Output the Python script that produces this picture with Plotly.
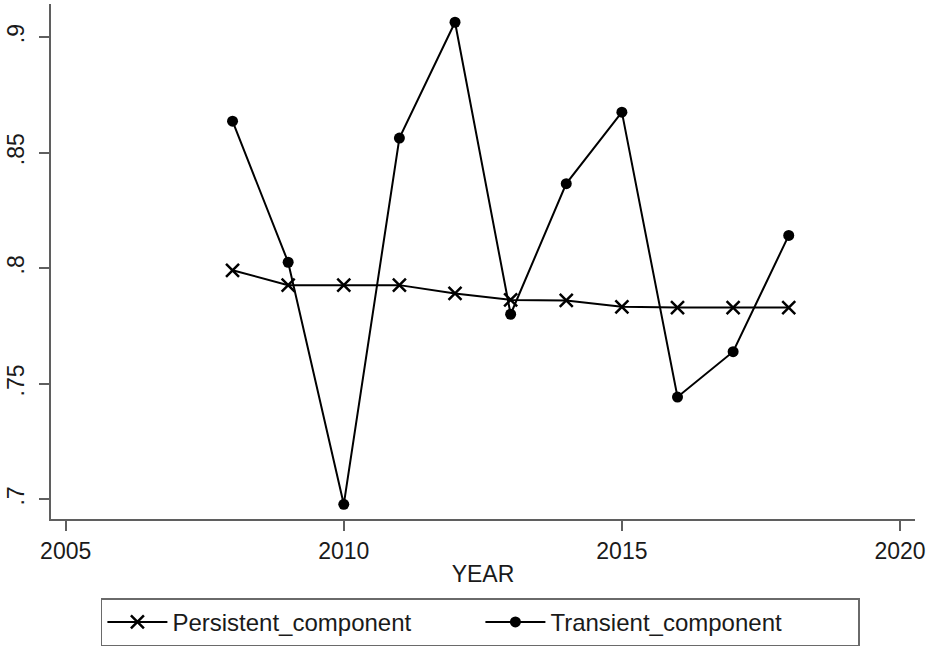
import plotly.graph_objects as go

# Yearly estimates of the two components
years = [2008, 2009, 2010, 2011, 2012, 2013, 2014, 2015, 2016, 2017, 2018]
persistent = [0.7991, 0.7927, 0.7927, 0.7927, 0.7891, 0.7863, 0.7861, 0.7833, 0.7830, 0.7830, 0.7830]
transient = [0.8636, 0.8026, 0.6979, 0.8563, 0.9064, 0.7801, 0.8366, 0.8675, 0.7443, 0.7639, 0.8142]

x_ticks = [2005, 2010, 2015, 2020]
y_ticks = [0.7, 0.75, 0.8, 0.85, 0.9]
y_tick_text = [".7", ".75", ".8", ".85", ".9"]

FONT = "Liberation Sans, Arial, sans-serif"
AXIS_GREY = "#5f5f5f"

fig = go.Figure()
fig.add_trace(go.Scatter(
    x=years, y=persistent, name="Persistent_component",
    mode="lines+markers",
    line=dict(color="black", width=2),
    marker=dict(symbol="x-thin", size=13, color="black",
                line=dict(color="black", width=2.5)),
))
fig.add_trace(go.Scatter(
    x=years, y=transient, name="Transient_component",
    mode="lines+markers",
    line=dict(color="black", width=2),
    marker=dict(symbol="circle", size=11, color="black"),
))

fig.update_layout(
    width=930, height=650,
    margin=dict(l=51, r=15, t=4, b=127),
    paper_bgcolor="white", plot_bgcolor="white",
    font=dict(family=FONT, size=23, color="#1a1a1a"),
    showlegend=True,
    legend=dict(
        orientation="h", x=0.497, xanchor="center", y=-0.154, yanchor="top",
        bordercolor="#6a6a6a", borderwidth=1.5, bgcolor="white",
        font=dict(family=FONT, size=24, color="#1a1a1a"),
        entrywidth=303, entrywidthmode="pixels",
        itemwidth=60, tracegroupgap=0,
    ),
)

fig.update_xaxes(
    range=[2004.736, 2020.27],
    tickvals=x_ticks, ticktext=[str(v) for v in x_ticks],
    ticks="outside", ticklen=10, tickwidth=2, tickcolor=AXIS_GREY,
    showline=True, linecolor=AXIS_GREY, linewidth=2,
    showgrid=False, zeroline=False,
    title=dict(text="YEAR", standoff=3, font=dict(family=FONT, size=23)),
)
fig.update_yaxes(
    range=[0.69155, 0.91429],
    tickvals=y_ticks, ticktext=y_tick_text, tickangle=-90,
    ticks="outside", ticklen=10, tickwidth=2, tickcolor=AXIS_GREY,
    showline=True, linecolor=AXIS_GREY, linewidth=2,
    showgrid=False, zeroline=False, ticklabelstandoff=6,
)

fig.write_html("out.html")
